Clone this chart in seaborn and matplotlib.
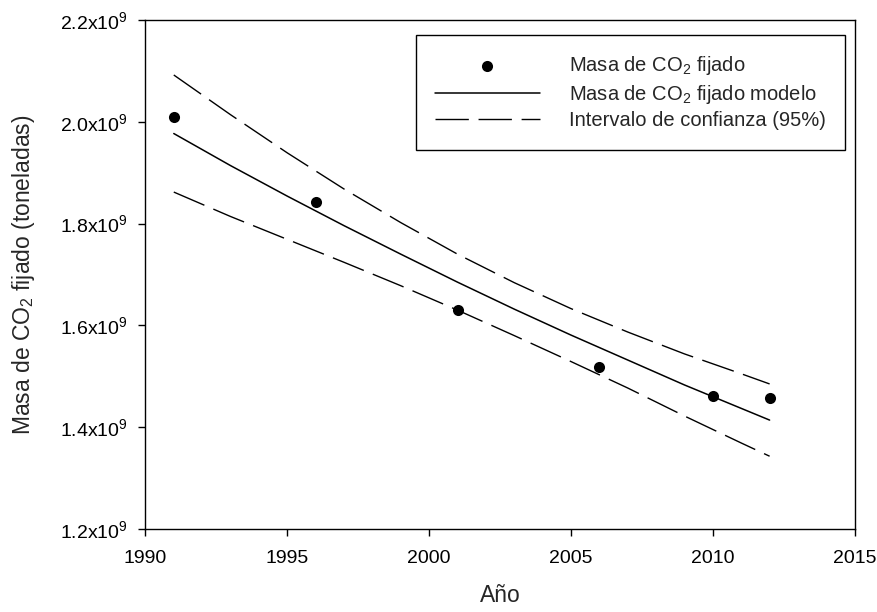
import pandas as pd
import seaborn as sns
import matplotlib.pyplot as plt

# observed CO2 fixed mass (tonnes)
years_obs = [1991, 1996, 2001, 2006, 2010, 2012]
co2_obs = [2.010e9, 1.843e9, 1.630e9, 1.518e9, 1.461e9, 1.457e9]

# model curve and 95% band
years_fit = [1991, 1993, 1995, 1997, 1999, 2001, 2003, 2005, 2007, 2009, 2011, 2012]
co2_model = [1.977e9, 1.914e9, 1.854e9, 1.796e9, 1.740e9, 1.685e9,
             1.632e9, 1.581e9, 1.532e9, 1.483e9, 1.437e9, 1.414e9]
co2_upper = [2.092e9, 2.014e9, 1.939e9, 1.868e9, 1.802e9, 1.740e9,
             1.684e9, 1.633e9, 1.587e9, 1.544e9, 1.505e9, 1.485e9]
co2_lower = [1.862e9, 1.814e9, 1.769e9, 1.724e9, 1.678e9, 1.630e9,
             1.580e9, 1.529e9, 1.477e9, 1.422e9, 1.369e9, 1.343e9]

x_ticks = [1990, 1995, 2000, 2005, 2010, 2015]
y_ticks = [1.2e9, 1.4e9, 1.6e9, 1.8e9, 2.0e9, 2.2e9]
y_tick_labels = ['1.2x10$^9$', '1.4x10$^9$', '1.6x10$^9$', '1.8x10$^9$', '2.0x10$^9$', '2.2x10$^9$']

obs = pd.DataFrame({'anio': years_obs, 'masa': co2_obs})
fit = pd.DataFrame({'anio': years_fit, 'modelo': co2_model, 'sup': co2_upper, 'inf': co2_lower})

sns.set_style('ticks')
plt.rcParams['font.family'] = ['Liberation Sans', 'DejaVu Sans']
plt.rcParams['mathtext.fontset'] = 'custom'
plt.rcParams['mathtext.rm'] = 'Liberation Sans'
plt.rcParams['mathtext.it'] = 'Liberation Sans:italic'
plt.rcParams['mathtext.bf'] = 'Liberation Sans:bold'

fig, ax = plt.subplots(figsize=(8.78, 6.12), dpi=100)
fig.subplots_adjust(left=0.1656, right=0.9735, top=0.9673, bottom=0.1356)

dash = (0, (24, 7))
sns.scatterplot(data=obs, x='anio', y='masa', color='black', s=64, linewidth=0,
                label='Masa de CO$_2$ fijado', ax=ax, zorder=3)
sns.lineplot(data=fit, x='anio', y='modelo', color='black', lw=1.1,
             label='Masa de CO$_2$ fijado modelo', ax=ax)
sns.lineplot(data=fit, x='anio', y='sup', color='black', lw=1.0, linestyle=dash,
             label='Intervalo de confianza (95%)', ax=ax)
sns.lineplot(data=fit, x='anio', y='inf', color='black', lw=1.0, linestyle=dash,
             label='_nolegend_', ax=ax)

ax.set_xlim(1990, 2015)
ax.set_ylim(1.2e9, 2.2e9)
ax.set_xticks(x_ticks)
ax.set_yticks(y_ticks)
ax.set_yticklabels(y_tick_labels)
ax.tick_params(direction='out', length=5, width=1, colors='black', labelsize=14)
ax.tick_params(axis='x', pad=10)
ax.tick_params(axis='y', pad=8)
for s in ax.spines.values():
    s.set_visible(True)
    s.set_color('black')
    s.set_linewidth(1.0)

ax.set_xlabel('Año', fontsize=16.5, labelpad=12)
ax.set_ylabel('Masa de CO$_2$ fijado (toneladas)', fontsize=16.5, labelpad=16)

leg = ax.legend(loc='upper right', bbox_to_anchor=(0.986, 0.9705), borderaxespad=0,
                frameon=True, fancybox=False, edgecolor='black', framealpha=1,
                fontsize=14.5, handlelength=5.2, handletextpad=1.45,
                labelspacing=0.28, borderpad=0.95, scatterpoints=1)
leg.get_frame().set_linewidth(1.0)

fig.savefig('out.png', dpi=100, facecolor='white')
